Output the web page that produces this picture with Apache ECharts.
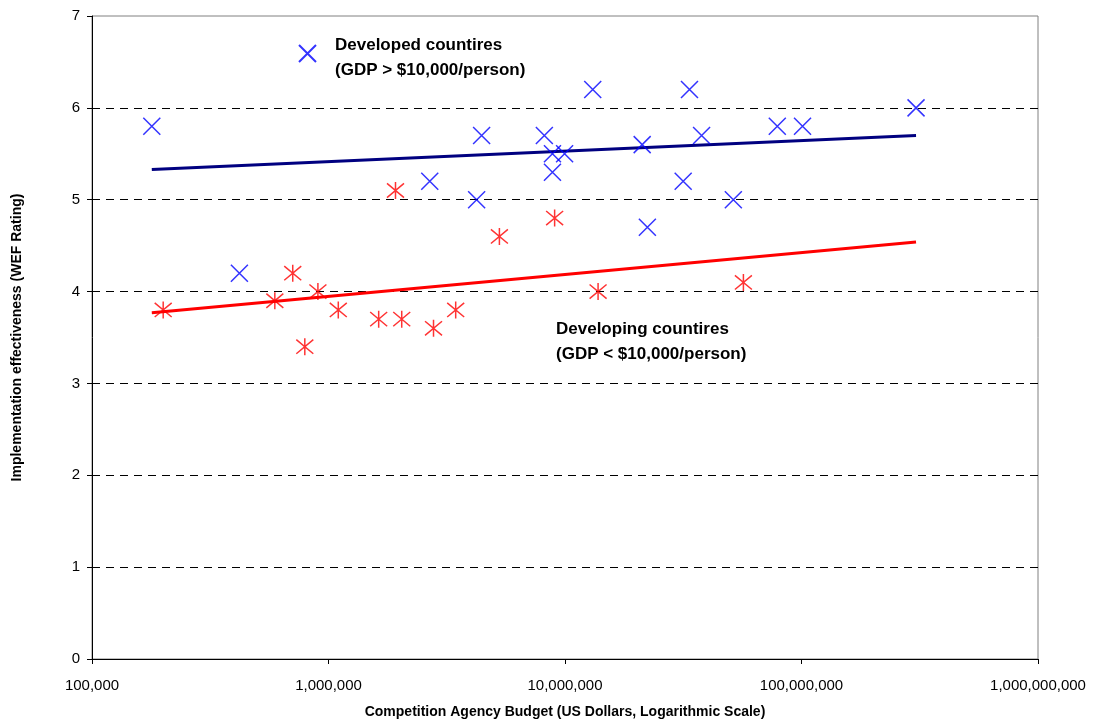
<!DOCTYPE html>
<html>
<head>
<meta charset="utf-8">
<script src="https://cdn.jsdelivr.net/npm/echarts@6/dist/echarts.min.js"></script>
<style>
  html, body { margin: 0; padding: 0; background: #fff; }
  #chart { width: 1094px; height: 724px; }
</style>
</head>
<body>
<div id="chart"></div>
<script>
// 发达国家 (budget in USD, WEF rating)
const developedBudget = [1.79e5, 4.2e5, 2.68e6, 4.23e6, 4.44e6, 8.18e6, 8.85e6, 9.96e6, 8.85e6,
    1.31e7, 2.12e7, 2.23e7, 3.16e7, 3.36e7, 3.78e7, 5.15e7, 7.9e7, 1.01e8, 3.05e8];
const developedRating = [5.8, 4.2, 5.2, 5.0, 5.7, 5.7, 5.5, 5.5, 5.3,
    6.2, 5.6, 4.7, 5.2, 6.2, 5.7, 5.0, 5.8, 5.8, 6.0];

// 发展中国家
const developingBudget = [2.0e5, 5.93e5, 7.06e5, 7.94e5, 9.02e5, 1.1e6, 1.63e6, 1.92e6, 2.04e6,
    2.78e6, 3.45e6, 5.28e6, 9.04e6, 1.38e7, 5.68e7];
const developingRating = [3.8, 3.9, 4.2, 3.4, 4.0, 3.8, 3.7, 5.1, 3.7,
    3.6, 3.8, 4.6, 4.8, 4.0, 4.1];

// trendline end points
const trendBudget = [1.79e5, 3.05e8];
const developedTrend = [5.33, 5.70];
const developingTrend = [3.77, 4.54];

const xTicks = [1e5, 1e6, 1e7, 1e8, 1e9];
const yTicks = [0, 1, 2, 3, 4, 5, 6, 7];

const font = "'Liberation Sans', Arial, sans-serif";
const crossPath = 'path://M0,0L10,10M10,0L0,10';
const starPath = 'path://M0,0L10,10M10,0L0,10M5,-1L5,11';

const zip = (xs, ys) => xs.map((x, i) => [x, ys[i]]);

const myChart = echarts.init(document.getElementById('chart'), null, { renderer: 'canvas' });

const option = {
    backgroundColor: '#fff',
    animation: false,
    textStyle: { fontFamily: font },
    grid: {
        left: 92,
        right: 56,
        top: 16,
        bottom: 63,
        show: true,
        borderColor: '#808080',
        borderWidth: 1
    },
    legend: {
        left: 293,
        top: 23,
        orient: 'vertical',
        itemWidth: 17,
        itemHeight: 17,
        selectedMode: false,
        data: [{ name: 'Developed countires', icon: crossPath }],
        formatter: function (name) {
            // 空行把文字往下推一点，图标保持在上方
            return '{s| }\n{a|' + name + '}\n{a|(GDP > $10,000/person)}';
        },
        textStyle: {
            fontFamily: font,
            color: '#000',
            padding: [0, 0, 0, 14],
            rich: {
                s: { fontSize: 1, lineHeight: 9 },
                a: { fontFamily: font, fontSize: 17, fontWeight: 'bold', lineHeight: 25, color: '#000' }
            }
        }
    },
    graphic: [
        {
            type: 'text',
            left: 556,
            top: 317,
            style: {
                text: 'Developing countires\n(GDP < $10,000/person)',
                font: 'bold 17px ' + font,
                lineHeight: 25,
                fill: '#000'
            }
        }
    ],
    xAxis: {
        type: 'log',
        logBase: 10,
        min: xTicks[0],
        max: xTicks[xTicks.length - 1],
        name: 'Competition Agency Budget (US Dollars, Logarithmic Scale)',
        nameLocation: 'middle',
        nameGap: 46,
        nameTextStyle: { fontFamily: font, fontSize: 14, fontWeight: 'bold', color: '#000' },
        axisLine: { lineStyle: { color: '#000', width: 1 } },
        axisTick: { show: true, length: 5, lineStyle: { color: '#000' } },
        axisLabel: {
            fontFamily: font,
            fontSize: 15,
            color: '#000',
            margin: 19,
            formatter: function (v) {
                return Math.round(v).toLocaleString('en-US');
            }
        },
        splitLine: { show: false },
        minorTick: { show: false }
    },
    yAxis: {
        type: 'value',
        min: yTicks[0],
        max: yTicks[yTicks.length - 1],
        interval: 1,
        name: 'Implementation effectiveness (WEF Rating)',
        nameLocation: 'middle',
        nameGap: 68,
        nameTextStyle: { fontFamily: font, fontSize: 14, fontWeight: 'bold', color: '#000' },
        axisLine: { show: true, lineStyle: { color: '#000', width: 1 } },
        axisTick: { show: true, length: 5, lineStyle: { color: '#000' } },
        axisLabel: { fontFamily: font, fontSize: 15, color: '#000', margin: 12 },
        splitLine: {
            show: true,
            showMinLine: false,
            showMaxLine: false,
            lineStyle: { color: '#000', type: [8, 6], width: 1 }
        }
    },
    series: [
        {
            name: 'Developed trend',
            type: 'line',
            data: zip(trendBudget, developedTrend),
            showSymbol: false,
            symbol: 'none',
            lineStyle: { color: '#000080', width: 3 },
            z: 2
        },
        {
            name: 'Developing trend',
            type: 'line',
            data: zip(trendBudget, developingTrend),
            showSymbol: false,
            symbol: 'none',
            lineStyle: { color: '#FF0000', width: 3 },
            z: 2
        },
        {
            name: 'Developed countires',
            type: 'scatter',
            data: zip(developedBudget, developedRating),
            symbol: crossPath,
            symbolSize: 17,
            itemStyle: { color: 'rgba(0,0,0,0)', borderColor: '#0000FF', borderWidth: 1.5 },
            z: 3
        },
        {
            name: 'Developing countires',
            type: 'scatter',
            data: zip(developingBudget, developingRating),
            symbol: starPath,
            symbolSize: 17,
            itemStyle: { color: 'rgba(0,0,0,0)', borderColor: '#FF0000', borderWidth: 1.5 },
            z: 3
        }
    ]
};

myChart.setOption(option);
</script>
</body>
</html>
